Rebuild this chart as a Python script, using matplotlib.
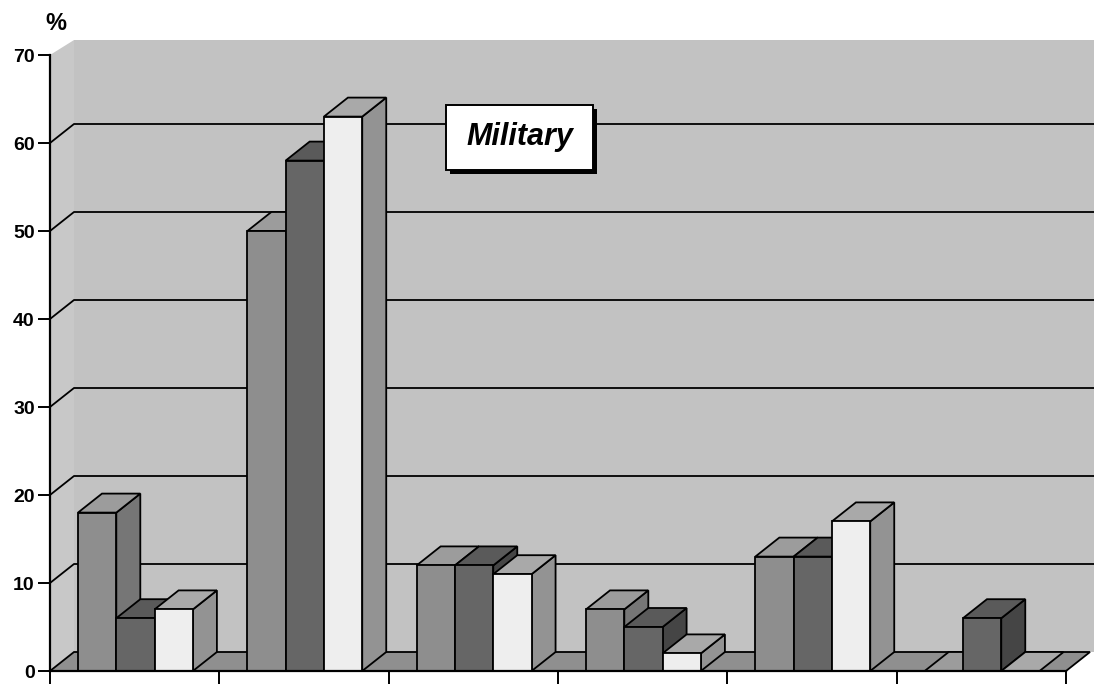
import matplotlib
matplotlib.use("Agg")
import matplotlib.pyplot as plt
from matplotlib.patches import Polygon, Rectangle

# Survey shares (%) by group, three series per group
groups = ["A", "B", "C", "D", "E", "F"]
series_1 = [18, 50, 12, 7, 13, 0]
series_2 = [6, 58, 12, 5, 13, 6]
series_3 = [7, 63, 11, 2, 17, 0]
y_ticks = [0, 10, 20, 30, 40, 50, 60, 70]
title_text = "Military"

# face colours per series: (front, top, side)
faces = [
    ("#8e8e8e", "#9c9c9c", "#767676"),
    ("#666666", "#5a5a5a", "#454545"),
    ("#eeeeee", "#a9a9a9", "#939393"),
]
wall_col = "#c2c2c2"
side_wall_col = "#c8c8c8"
floor_col = "#8f8f8f"
lw = 1.3

W, H, DPI = 1094, 695, 100
fig = plt.figure(figsize=(W / DPI, H / DPI), dpi=DPI)
fig.patch.set_facecolor("white")

x_left, x_right = 50, 1066
y_zero, y_top = 671, 55
ax = fig.add_axes([x_left / W, (H - y_zero) / H,
                   (x_right - x_left) / W, (y_zero - y_top) / H])
n = len(groups)
ax.set_xlim(0, n)
ax.set_ylim(0, 70)
ax.set_facecolor("none")

px_x = n / (x_right - x_left)      # data units per pixel (x)
px_y = 70 / (y_zero - y_top)       # data units per pixel (y)
dx = 24 * px_x                     # oblique depth offset
dy = 19 * px_y
x_end = (W - x_left) * px_x
wall_top = 71.7

# back wall and left wall
ax.add_patch(Rectangle((dx, dy), x_end - dx, wall_top - dy, fc=wall_col,
                       ec="none", clip_on=False, zorder=0))
ax.add_patch(Polygon([(0, 0), (0, 70), (dx, wall_top), (dx, dy)],
                     closed=True, fc=side_wall_col, ec="none",
                     clip_on=False, zorder=0))

# gridlines running along left wall and back wall
for v in y_ticks[1:-1]:
    ax.plot([0, dx, x_end], [v, v + dy, v + dy], color="black", lw=1.3,
            clip_on=False, zorder=1, solid_capstyle="butt")

# floor
ax.add_patch(Polygon([(0, 0), (n, 0), (n + dx, dy), (dx, dy)], closed=True,
                     fc=floor_col, ec="black", lw=lw, clip_on=False,
                     zorder=2, joinstyle="miter"))

gap = 28 * px_x
bw = 38.3 * px_x
values = [series_1, series_2, series_3]
z = 3
for i in range(n):
    for j, vals in enumerate(values):
        h = vals[i]
        x0 = i + gap + j * bw
        fc_front, fc_top, fc_side = faces[j]
        front = [(x0, 0), (x0 + bw, 0), (x0 + bw, h), (x0, h)]
        top = [(x0, h), (x0 + bw, h), (x0 + bw + dx, h + dy), (x0 + dx, h + dy)]
        side = [(x0 + bw, 0), (x0 + bw + dx, dy), (x0 + bw + dx, h + dy), (x0 + bw, h)]
        for poly, c in ((side, fc_side), (top, fc_top), (front, fc_front)):
            if h == 0 and poly is not top:
                continue
            ax.add_patch(Polygon(poly, closed=True, fc=c, ec="black", lw=lw,
                                 clip_on=False, zorder=z, joinstyle="miter"))
            z += 0.01

# axes styling
for s in ("top", "right"):
    ax.spines[s].set_visible(False)
for s in ("left", "bottom"):
    ax.spines[s].set_linewidth(1.6)
    ax.spines[s].set_zorder(20)
ax.set_yticks(y_ticks)
ax.set_yticklabels([str(t) for t in y_ticks], fontfamily="Liberation Sans",
                   fontweight="bold", fontsize=14)
ax.set_xticks(range(n + 1))
ax.set_xticklabels([])
ax.tick_params(axis="y", direction="out", length=9, width=1.4, pad=2)
ax.tick_params(axis="x", direction="out", length=9, width=1.4)

fig.text(56 / W, 1 - 24 / H, "%", fontfamily="Liberation Sans",
         fontweight="bold", fontsize=17, ha="center", va="center")

# title box with drop shadow
bx0, by0, bx1, by1 = 446, 105, 593, 170
sh = 4
fig.add_artist(Rectangle(((bx0 + sh) / W, 1 - (by1 + sh) / H),
                         (bx1 - bx0) / W, (by1 - by0) / H,
                         transform=fig.transFigure, fc="black", ec="none",
                         zorder=30))
fig.add_artist(Rectangle((bx0 / W, 1 - by1 / H), (bx1 - bx0) / W,
                         (by1 - by0) / H, transform=fig.transFigure,
                         fc="white", ec="black", lw=1.4, zorder=31))
fig.text((bx0 + bx1) / 2 / W, 1 - (by0 + by1) / 2 / H, title_text,
         fontfamily="Liberation Sans", fontweight="bold", style="italic",
         fontsize=22, ha="center", va="center", zorder=32)

fig.savefig("out.png", dpi=DPI)
